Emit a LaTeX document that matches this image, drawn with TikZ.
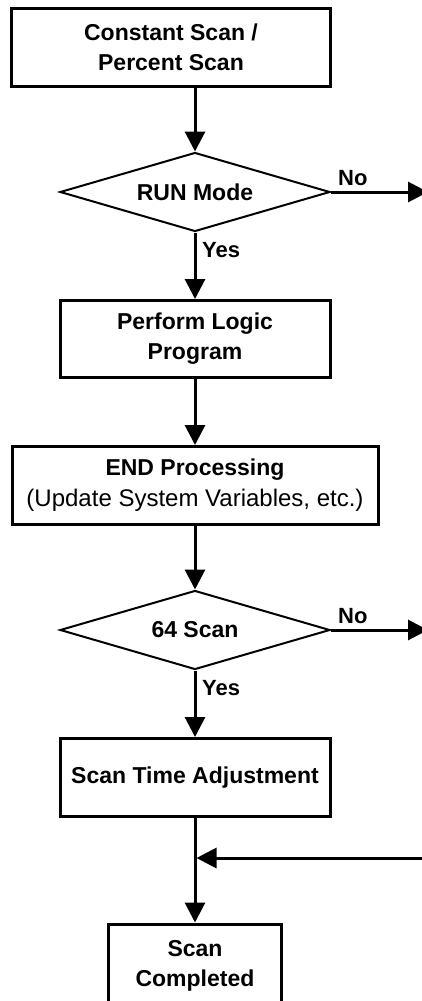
\documentclass[tikz,border=0pt]{standalone}
\usepackage{fontspec}
\setmainfont{Liberation Sans}
\usetikzlibrary{shapes.geometric,arrows.meta,calc}
\tikzset{
  boxnode/.style={draw, line width=3pt, rectangle, inner sep=0pt, align=center,
    font=\bfseries\fontsize{23}{30}\selectfont},
  decnode/.style={draw, line width=2pt, diamond, inner sep=0pt, aspect=3.4,
    minimum width=270pt, minimum height=79pt, font=\bfseries\fontsize{23}{30}\selectfont},
  lbl/.style={inner sep=0pt, anchor=base west, font=\bfseries\fontsize{22}{26}\selectfont},
  conn/.style={line width=3pt, -{Triangle[width=20pt,length=20pt]}},
}
\begin{document}
\begin{tikzpicture}[x=1pt,y=-1pt]
\useasboundingbox (0,0) rectangle (422,1001);
\clip (0,0) rectangle (422,1001);
\node[boxnode, minimum width=319pt, minimum height=78pt] (b1) at (171,47.5) {Constant Scan /\\Percent Scan};
\node[decnode] (d1) at (195,192) {RUN Mode};
\node[boxnode, minimum width=270pt, minimum height=77pt] (b2) at (195,339) {Perform Logic\\Program};
\node[boxnode, minimum width=366pt, minimum height=78pt] (b3) at (195,485.5) {END Processing\\[1pt]\mdseries\fontsize{24}{30}\selectfont (Update System Variables, etc.)};
\node[decnode] (d2) at (195,630) {64 Scan};
\node[boxnode, minimum width=270pt, minimum height=78pt] (b4) at (195,777.5) {Scan Time Adjustment};
\node[boxnode, minimum width=173pt, minimum height=84pt] (b5) at (195,966) {Scan\\Completed};

\coordinate (n1) at ($(d1.east)+(97,0)$);
\coordinate (n2) at ($(d2.east)+(97,0)$);
\coordinate (jr) at (430,858);
\coordinate (jl) at (196.5,858);

\draw[conn] (b1.south -| d1.north) -- (d1.north);
\draw[conn] (d1.south) -- (b2.north);
\draw[conn] (b2.south) -- (b3.north);
\draw[conn] (b3.south) -- (d2.north);
\draw[conn] (d2.south) -- (b4.north);
\draw[conn] (b4.south) -- (b5.north);
\draw[conn] (d1.east) -- (n1);
\draw[conn] (d2.east) -- (n2);
\draw[conn] (jr) -- (jl);

\node[lbl] (no1) at ($(d1.east)+(7,-7)$) {No};
\node[lbl] (no2) at ($(d2.east)+(7,-7)$) {No};
\node[lbl] (yes1) at ($(d1.south)+(7,24.5)$) {Yes};
\node[lbl] (yes2) at ($(d2.south)+(7,24.5)$) {Yes};
\end{tikzpicture}
\end{document}
